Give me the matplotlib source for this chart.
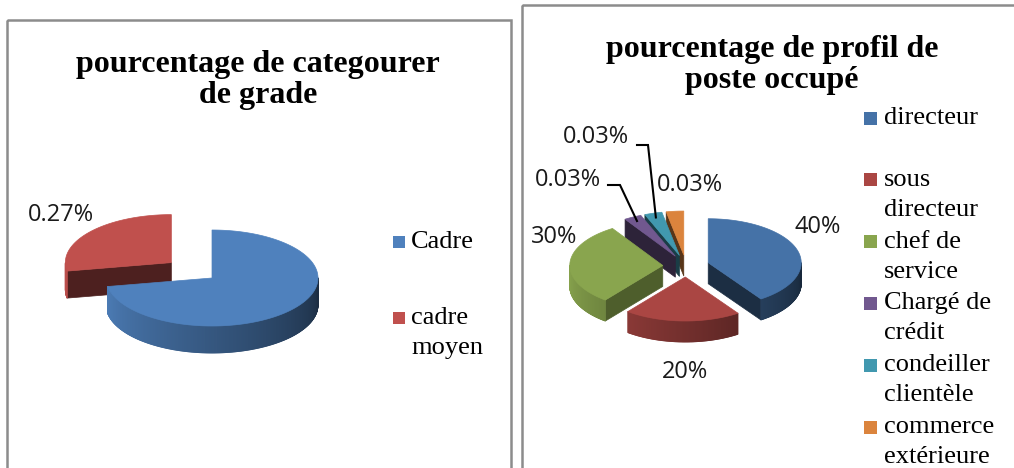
import numpy as np
import matplotlib
matplotlib.use("Agg")
import matplotlib.pyplot as plt
from matplotlib.patches import Polygon, Rectangle
from matplotlib.collections import PolyCollection
from matplotlib.colors import to_rgb

W, H = 1014, 468

# --- data ---
grade_title = "pourcentage de categourer\nde grade"
grade_labels = ["Cadre", "cadre\nmoyen"]
grade_values = [70, 27]
grade_text = ["70%", "0.27%"]
grade_colors = ["#4f81bd", "#c0504d"]
grade_explode = [0.0, 0.5]

poste_title = "pourcentage de profil de\nposte occupé"
poste_labels = ["directeur", "sous\ndirecteur", "chef de\nservice",
                "Chargé de\ncrédit", "condeiller\nclientèle", "commerce\nextérieure"]
poste_values = [40, 20, 30, 3, 3, 3]
poste_text = ["40%", "20%", "30%", "0.03%", "0.03%", "0.03%"]
poste_colors = ["#4572a7", "#aa4643", "#89a54e", "#71588f", "#4198af", "#db843d"]
poste_explode = [0.25] * 6

SERIF = "Liberation Serif"
SANS = "Open Sans"


def shade(c, f):
    r, g, b = to_rgb(c)
    return (r * f, g * f, b * f)


def pie_axes(fig, cx, cy, rx, ry):
    # axes over the whole figure, one data unit = pie radius (squashed in y)
    ax = fig.add_axes([0, 0, 1, 1])
    ax.set_xlim(-cx / rx, (W - cx) / rx)
    ax.set_ylim((cy - H) / ry, cy / ry)
    ax.axis("off")
    ax.patch.set_alpha(0)
    return ax


def draw_pie3d(ax, values, colors, explode, depth, start=90):
    frac = np.asarray(values, float) / np.sum(values)
    a_hi = start - 360 * np.concatenate([[0], np.cumsum(frac)[:-1]])
    a_lo = a_hi - 360 * frac
    mids = (a_hi + a_lo) / 2
    offs = [(e * np.cos(np.radians(m)), e * np.sin(np.radians(m)))
            for e, m in zip(explode, mids)]
    # back slices first
    order = np.argsort([-(o[1] + np.sin(np.radians(m))) for o, m in zip(offs, mids)])
    for i in order:
        ox, oy = offs[i]
        col = colors[i]
        a1, a2 = a_lo[i], a_hi[i]
        t = np.radians(np.linspace(a1, a2, max(8, int((a2 - a1) * 2))))
        xs = ox + np.cos(t)
        ys = oy + np.sin(t)
        # cut faces
        for a, s in ((a1, -1), (a2, 1)):
            nrm = np.radians(a + s * 90)
            if np.sin(nrm) < -1e-6:
                ex = ox + np.cos(np.radians(a))
                ey = oy + np.sin(np.radians(a))
                f = 0.40 + 0.35 * max(0, np.cos(nrm)) ** 3
                c = shade(col, f)
                ax.add_patch(Polygon([(ox, oy), (ex, ey), (ex, ey - depth), (ox, oy - depth)],
                                     closed=True, fc=c, ec=c, lw=0.5))
        # outer wall, darker to the right
        quads, fcs = [], []
        for k in range(len(t) - 1):
            tm = (t[k] + t[k + 1]) / 2
            if np.sin(tm) >= 0:
                continue
            u = ((np.degrees(tm) % 360) - 180) / 180
            c = shade(col, 1.0 - 0.65 * u)
            quads.append([(xs[k], ys[k]), (xs[k + 1], ys[k + 1]),
                          (xs[k + 1], ys[k + 1] - depth), (xs[k], ys[k] - depth)])
            fcs.append(c)
        if quads:
            ax.add_collection(PolyCollection(quads, facecolors=fcs, edgecolors=fcs, linewidths=0.6))
        ax.add_patch(Polygon([(ox, oy)] + list(zip(xs, ys)), closed=True, fc=col, ec=col, lw=0.5))
    return mids, offs


fig = plt.figure(figsize=(W / 100, H / 100), dpi=100)
fig.patch.set_facecolor("white")

bg = fig.add_axes([0, 0, 1, 1])
bg.set_xlim(0, W)
bg.set_ylim(H, 0)
bg.axis("off")

# panel frames
bg.add_patch(Rectangle((7, 20), 504, 470, fill=False, ec="#8c8c8c", lw=1.8))
bg.add_patch(Rectangle((522, 5), 520, 480, fill=False, ec="#8c8c8c", lw=1.8))

# titles
bg.text(258, 80, grade_title, ha="center", va="center", family=SERIF,
        weight="bold", fontsize=23, linespacing=1.05)
bg.text(772, 65, poste_title, ha="center", va="center", family=SERIF,
        weight="bold", fontsize=23, linespacing=1.05)

# left pie
ax1 = pie_axes(fig, 212, 278, 106, 48)
draw_pie3d(ax1, grade_values, grade_colors, grade_explode, 27 / 48)
bg.text(250, 302, grade_text[0], ha="center", va="center", family=SANS, fontsize=17, color="#1a1a1a")
bg.text(61, 215, grade_text[1], ha="center", va="center", family=SANS, fontsize=17, color="#1a1a1a")

# left legend
for k, (lab, col) in enumerate(zip(grade_labels, grade_colors)):
    y0 = 242 + 76 * k
    bg.add_patch(Rectangle((393, y0 - 6), 12, 12, fc=col, ec="none"))
    for j, line in enumerate(lab.split("\n")):
        bg.text(411, y0 + 30 * j, line, ha="left", va="center", family=SERIF, fontsize=19)

# right pie
pcx, pcy, prx, pry = 686, 266, 93, 44
ax2 = pie_axes(fig, pcx, pcy, prx, pry)
mids, offs = draw_pie3d(ax2, poste_values, poste_colors, poste_explode, 21 / 44)

label_pos = [(818, 227), (685, 372), (554, 237), (568, 180), (596, 137), (690, 185)]
for (x, y), s in zip(label_pos, poste_text):
    bg.text(x, y, s, ha="center", va="center", family=SANS, fontsize=17, color="#1a1a1a")

# leader lines for the two thin slices
leaders = {3: [(608, 185), (620, 185)], 4: [(637, 145), (648, 145)]}
for i, pts in leaders.items():
    m = np.radians(mids[i])
    ex = offs[i][0] + 0.9 * np.cos(m)
    ey = offs[i][1] + 0.9 * np.sin(m)
    xs = [(px - pcx) / prx for px, py in pts] + [ex]
    ys = [(pcy - py) / pry for px, py in pts] + [ey]
    ax2.plot(xs, ys, color="black", lw=1.5, solid_joinstyle="miter")

# right legend
for k, (lab, col) in enumerate(zip(poste_labels, poste_colors)):
    y0 = 118 + 61.8 * k
    bg.add_patch(Rectangle((864, y0 - 6.5), 13, 13, fc=col, ec="none"))
    for j, line in enumerate(lab.split("\n")):
        bg.text(884, y0 + 30 * j, line, ha="left", va="center", family=SERIF, fontsize=19)

fig.savefig("out.png", dpi=100)
